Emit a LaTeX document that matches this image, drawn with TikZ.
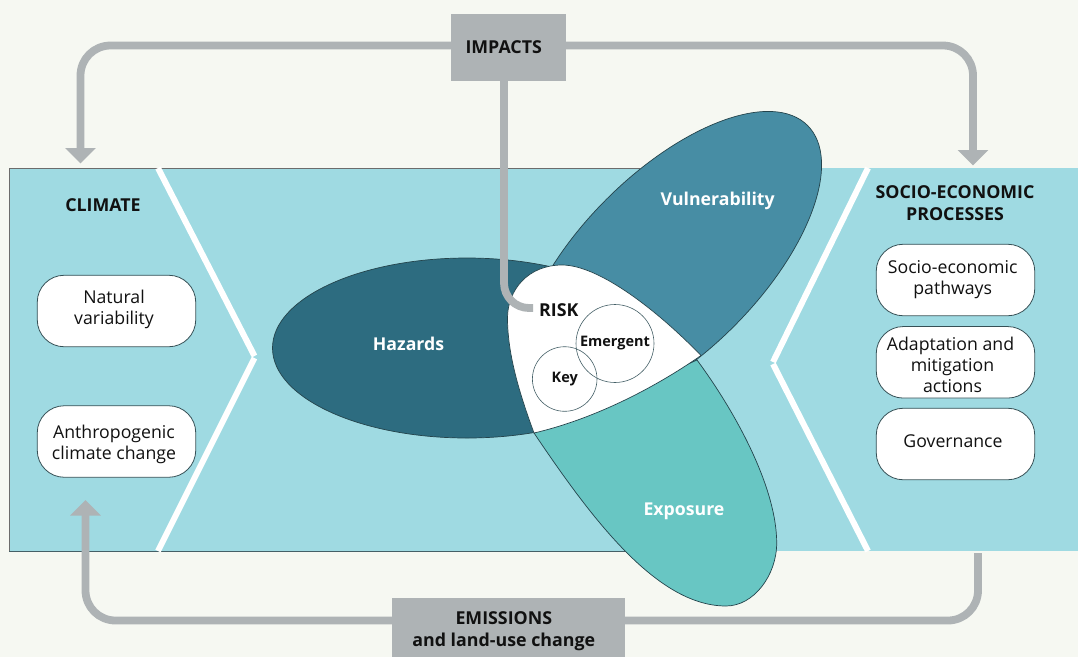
\documentclass[tikz,border=0pt]{standalone}
\usepackage{fontspec}
\setmainfont{Open Sans}
\usetikzlibrary{arrows.meta,shapes.geometric}
\definecolor{bgc}{HTML}{F6F8F2}
\definecolor{band}{HTML}{9FDAE2}
\definecolor{conn}{HTML}{AEB3B5}
\definecolor{hazc}{HTML}{2D6C80}
\definecolor{vulc}{HTML}{478DA4}
\definecolor{expc}{HTML}{68C6C3}
\definecolor{edge}{HTML}{24444C}
\definecolor{txt}{HTML}{111111}
\tikzset{
  x=1pt,y=-1pt,
  pill/.style={draw=edge!80!gray,line width=.8pt,fill=white,rounded corners=27pt,minimum width=158.5pt,minimum height=71.5pt,inner sep=0pt},
  lab/.style={font=\fontsize{17.7}{21}\selectfont,text=txt,align=center,inner sep=0pt},
  head/.style={font=\fontsize{17.8}{22}\selectfont\bfseries,text=txt,align=center,inner sep=0pt},
  petal/.style={font=\fontsize{17.7}{21}\selectfont\bfseries,text=white,inner sep=0pt},
  petaledge/.style={draw=edge,line width=.7pt},
  ring/.style={circle,draw=edge!85!white,line width=.6pt,inner sep=0pt,font=\fontsize{14.5}{17}\selectfont\bfseries,text=txt},
  graybox/.style={fill=conn,inner sep=0pt},
  flow/.style={draw=conn,line width=7.8pt,rounded corners=30pt},
  flowtip/.style={flow,-{Triangle[width=30pt,length=15.5pt]}},
  chev/.style={draw=white,line width=6pt},
}
\begin{document}
\begin{tikzpicture}
\useasboundingbox (0,0) rectangle (1078,657);
\fill[bgc] (0,0) rectangle (1078,657);
% band
\fill[band] (9,168) rectangle (1078,551);
\draw[gray!85!black,line width=.9pt] (640,168) -- (9,168) -- (9,551);
\draw[edge!85!white,line width=.9pt] (9,551) -- (625,551);
% chevrons
\draw[chev] (158,168) -- (254.5,356);
\draw[chev] (254.5,358) -- (158,551);
\draw[chev] (868,168) -- (773,362);
\draw[chev] (773,364) -- (868,551);
% petals
\draw[petaledge,fill=hazc] (467,348) ellipse [x radius=194.5,y radius=90];
\draw[petaledge,fill=vulc,rotate around={45:(670,263)}] (670,263) ellipse [x radius=194.5,y radius=90];
\draw[petaledge,fill=expc] (534,433) .. controls (590,516) and (656,606) .. (726,606)
   .. controls (754,606) and (776.7,575) .. (776.7,543)
   .. controls (776.7,490) and (739,417) .. (697,360) -- cycle;
\fill[white] (701,355.5) .. controls (660,313) and (600,265) .. (562,265)
   .. controls (528,265) and (507.5,290) .. (507.5,318)
   .. controls (507.5,355) and (520,395) .. (534,433)
   .. controls (590,420) and (650,391) .. (701,355.5) -- cycle;
\draw[petaledge] (701,355.5) .. controls (660,313) and (600,265) .. (562,265)
   .. controls (528,265) and (507.5,290) .. (507.5,318)
   .. controls (507.5,355) and (520,395) .. (534,433)
   .. controls (590,420) and (650,391) .. (701,355.5);
\node[petal] (haz) at (408.5,344) {Hazards};
\node[petal] (vul) at (717.7,201) {Vulnerability};
\node[petal] (exp) at (684,511) {Exposure};
\node[ring,minimum size=64.6pt] (key) at (564.7,379) {\raisebox{-2pt}{Key}};
\node[ring,minimum size=78pt] (eme) at (615,343.5) {\raisebox{-2pt}{Emergent}};
\node[head,anchor=west] (risk) at (539,310) {RISK};
% boxes
\node[pill] (p1) at (116.5,311) {};
\node[pill] (p2) at (116.5,441.5) {};
\node[pill] (p3) at (955.5,280) {};
\node[pill] (p4) at (955.5,362.3) {};
\node[pill] (p5) at (955.5,444) {};
\node[lab] (t1) at (114,309.5) {Natural\\variability};
\node[lab] (t2) at (114,444) {Anthropogenic\\climate change};
\node[lab] (t3) at (952.7,279.5) {Socio-economic\\pathways};
\node[lab] (t4) at (952.5,365) {Adaptation and\hspace*{4pt}\\mitigation\\actions};
\node[lab] (t5) at (953,441) {Governance};
\node[head] (climate) at (103,205) {CLIMATE};
\node[head] (socio) at (955,203) {SOCIO-ECONOMIC\\PROCESSES};
% gray boxes
\node[graybox,minimum width=115pt,minimum height=67pt] (impacts) at (508.5,47.5) {};
\node[graybox,minimum width=233pt,minimum height=59pt] (emissions) at (508.5,627.5) {};
\node[head] (impactst) at (503.7,47.5) {IMPACTS};
\node[head] (emissionst) at (503.8,631.5) {EMISSIONS\\and land-use change};
\coordinate (climtop) at (80.5,163.5);
\coordinate (soctop) at (973,165.5);
\coordinate (climbot) at (85.5,500);
\coordinate (socbot) at (978,553);
% connectors
\draw[flowtip] ([yshift=2pt]impacts.west) -| (climtop);
\draw[flowtip] ([yshift=2pt]impacts.east) -| (soctop);
\draw[flow,rounded corners=25pt] (impacts.south -| 504,0) |- ([shift={(-6pt,2pt)}]risk.west);
\draw[flowtip] ([yshift=7pt]emissions.west) -| (climbot);
\draw[flow] ([yshift=7pt]emissions.east) -| (socbot);
\end{tikzpicture}
\end{document}
